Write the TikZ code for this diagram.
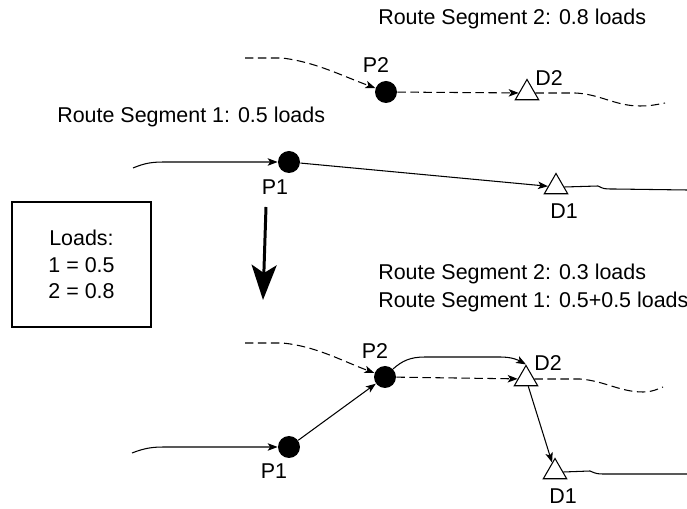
\documentclass[tikz,border=0pt]{standalone}
\usepackage{fontspec}
\setmainfont{Liberation Sans}
\usetikzlibrary{shapes.geometric,arrows.meta}

\tikzset{
	pick/.style={circle, fill=black, minimum size=0.44cm, inner sep=0pt},
	drop/.style={regular polygon, regular polygon sides=3, draw, fill=white, line width=0.6pt, minimum size=0.54cm, inner sep=0pt},
	seg/.style={line width=0.6pt},
	segdash/.style={line width=0.6pt, dash pattern=on 0.17cm off 0.09cm},
	arr/.style={-{Stealth[length=0.2cm, width=0.15cm, inset=0.05cm]}},
	lbl/.style={inner sep=0pt, anchor=base},
	txt/.style={inner sep=0pt, anchor=base west},
}

\begin{document}
\begin{tikzpicture}[x=0.02cm, y=-0.02cm, font=\fontsize{12.2pt}{15pt}\selectfont]
	\useasboundingbox (0,0) rectangle (687,509);

	% Stops, before:
	\node[pick] (P1a) at (289,162) {};
	\node[pick] (P2a) at (386,92) {};
	\node[drop] (D1a) at (556,187) {};
	\node[drop] (D2a) at (527,93) {};

	% Stops, after:
	\node[pick] (P1b) at (289,447) {};
	\node[pick] (P2b) at (385,377) {};
	\node[drop] (D1b) at (555,472) {};
	\node[drop] (D2b) at (526,379) {};

	% Loose ends:
	\coordinate (in1a) at (133,168);
	\coordinate (out1a) at (687,190);
	\coordinate (in2a) at (245,58);
	\coordinate (out2a) at (665,103);
	\coordinate (in1b) at (132,453);
	\coordinate (out1b) at (687,474);
	\coordinate (in2b) at (245,343);
	\coordinate (out2b) at (663,387);
	\coordinate (go) at (266,207);
	\coordinate (stop) at (263,300);

	% Routes, before:
	\draw[seg, arr] (in1a) .. controls (145,163) and (152,162) .. (165,162) -- (P1a);
	\draw[seg, arr] (P1a) -- (D1a);
	\draw[seg] (D1a.east) -- (598,186) .. controls (604,189) .. (614,189) -- (out1a);
	\draw[segdash, arr] (in2a) -- (282,58) .. controls (315,62) and (340,75) .. (P2a);
	\draw[segdash, arr] (P2a) -- (D2a);
	\draw[segdash] (D2a.east) -- (575,93) .. controls (600,94) and (615,106) .. (640,106) .. controls (652,106) and (659,104) .. (out2a);

	% Swap:
	\draw[line width=1.7pt, -{Stealth[length=0.7cm, width=0.5cm, inset=0.16cm]}] (go) -- (stop);
	\node[draw, line width=0.6pt, minimum width=2.78cm, minimum height=2.5cm, align=center, inner sep=0pt] (loads) at (81.5,264.5) {Loads:\\1 = 0.5\\2 = 0.8};

	% Routes, after:
	\draw[seg, arr] (in1b) .. controls (145,448) and (152,447) .. (165,447) -- (P1b);
	\draw[seg, arr] (P1b) -- (P2b);
	\draw[segdash, arr] (in2b) -- (282,343) .. controls (315,346) and (340,360) .. (P2b);
	\draw[segdash, arr] (P2b) -- (D2b);
	\draw[seg, arr] (P2b.north east) .. controls (402,361) and (410,357) .. (425,357) -- (500,357) .. controls (512,357) and (518,360) .. (D2b.corner 1);
	\draw[segdash] (D2b.east) -- (580,379) .. controls (605,381) and (620,392) .. (643,392) .. controls (652,392) and (658,389) .. (out2b);
	\draw[seg, arr] (D2b) -- (D1b);
	\draw[seg] (D1b.east) -- (590,471) .. controls (597,474) .. (606,474) -- (out1b);

	% Labels:
	\node[lbl] (lP1a) at (275,195) {P1};
	\node[lbl] (lP2a) at (376,73) {P2};
	\node[lbl] (lD1a) at (564,219) {D1};
	\node[lbl] (lD2a) at (549,86) {D2};
	\node[lbl] (lP1b) at (274,479) {P1};
	\node[lbl] (lP2b) at (375,359) {P2};
	\node[lbl] (lD1b) at (563,504) {D1};
	\node[lbl] (lD2b) at (548,371) {D2};
	\node[txt] (seg2a) at (378,25) {Route Segment 2: 0.8 loads};
	\node[txt] (seg1a) at (57,123) {Route Segment 1: 0.5 loads};
	\node[txt] (seg2b) at (378,280) {Route Segment 2: 0.3 loads};
	\node[txt] (seg1b) at (378,308) {Route Segment 1: 0.5+0.5 loads};

\end{tikzpicture}
\end{document}
